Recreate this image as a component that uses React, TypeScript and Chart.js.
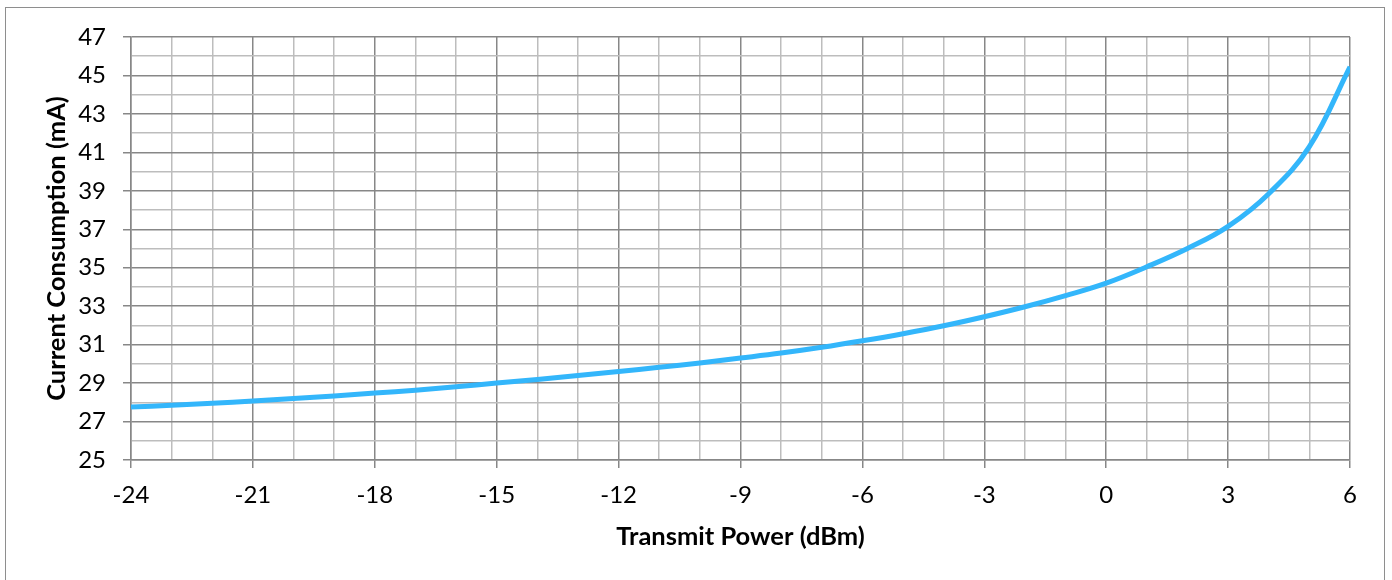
import React, { useEffect, useRef } from "react";
import { Chart, registerables } from "chart.js";

Chart.register(...registerables);

// Transmit power (dBm)
const xValues: number[] = [
  -24, -23, -22, -21, -20, -19, -18, -17, -16, -15, -14, -13, -12, -11, -10,
  -9, -8, -7, -6, -5, -4, -3, -2, -1, 0, 1, 2, 3, 4, 5, 6,
];
// Current consumption (mA)
const currentValues: number[] = [
  27.75, 27.85, 27.95, 28.07, 28.2, 28.33, 28.48, 28.63, 28.81, 29.0, 29.19,
  29.39, 29.6, 29.82, 30.05, 30.3, 30.56, 30.86, 31.2, 31.57, 31.98, 32.45,
  32.97, 33.55, 34.2, 35.05, 36.0, 37.15, 38.85, 41.3, 45.45,
];

const X_MIN = -24;
const X_MAX = 6;
const X_MAJOR_STEP = 3;
const Y_MIN = 25;
const Y_MAX = 47;
const Y_MAJOR_STEP = 2;

const xTitle = "Transmit Power (dBm)";
const yTitle = "Current Consumption (mA)";

const DARK = "#878787";
const LIGHT = "#bdbdbd";
const LINE = "#33b6fb";
const FONT = "Lato, 'Open Sans', sans-serif";

function isMajor(v: number, step: number, base: number) {
  const r = Math.abs((v - base) % step);
  return r < 1e-6 || Math.abs(r - step) < 1e-6;
}

export default function App() {
  const canvasRef = useRef<HTMLCanvasElement | null>(null);

  useEffect(() => {
    document.body.style.margin = "0";
    const canvas = canvasRef.current;
    if (!canvas) return;
    const chart = new Chart(canvas, {
      type: "line",
      data: {
        datasets: [
          {
            data: xValues.map((x, i) => ({ x, y: currentValues[i] })),
            borderColor: LINE,
            backgroundColor: LINE,
            borderWidth: 5,
            pointRadius: 0,
            tension: 0.4,
            fill: false,
          },
        ],
      },
      options: {
        animation: false,
        responsive: false,
        maintainAspectRatio: false,
        layout: { padding: { top: 37, right: 42, left: 0, bottom: 0 } },
        plugins: {
          legend: { display: false },
          tooltip: { enabled: false },
        },
        scales: {
          x: {
            type: "linear",
            min: X_MIN,
            max: X_MAX,
            afterFit: (scale: any) => {
              scale.height = 120;
            },
            ticks: {
              stepSize: 1,
              autoSkip: false,
              maxRotation: 0,
              padding: 13,
              color: "#000",
              font: { family: FONT, size: 24 },
              callback: (v: any) =>
                isMajor(Number(v), X_MAJOR_STEP, X_MIN) ? String(v) : "",
            },
            grid: {
              lineWidth: 1.5,
              tickLength: 8,
              color: (ctx: any) =>
                ctx.tick && isMajor(ctx.tick.value, X_MAJOR_STEP, X_MIN) ? DARK : LIGHT,
              tickColor: (ctx: any) =>
                ctx.tick && isMajor(ctx.tick.value, X_MAJOR_STEP, X_MIN)
                  ? DARK
                  : "rgba(0,0,0,0)",
            },
            border: { display: true, color: DARK, width: 1.5 },
            title: {
              display: true,
              text: xTitle,
              color: "#000",
              font: { family: FONT, size: 25.5, weight: "bold" },
              padding: { top: 0, bottom: 28 },
            },
          },
          y: {
            type: "linear",
            min: Y_MIN,
            max: Y_MAX,
            afterFit: (scale: any) => {
              scale.width = 131;
            },
            ticks: {
              stepSize: 1,
              autoSkip: false,
              padding: 17,
              color: "#000",
              font: { family: FONT, size: 24 },
              callback: (v: any) =>
                isMajor(Number(v), Y_MAJOR_STEP, Y_MIN) ? String(v) : "",
            },
            grid: {
              lineWidth: 1.5,
              tickLength: 8,
              color: (ctx: any) =>
                ctx.tick && isMajor(ctx.tick.value, Y_MAJOR_STEP, Y_MIN) ? DARK : LIGHT,
              tickColor: (ctx: any) =>
                ctx.tick && isMajor(ctx.tick.value, Y_MAJOR_STEP, Y_MIN)
                  ? DARK
                  : "rgba(0,0,0,0)",
            },
            border: { display: true, color: DARK, width: 1.5 },
            title: {
              display: true,
              text: yTitle,
              color: "#000",
              font: { family: FONT, size: 25.5, weight: "bold" },
              padding: { top: 41, bottom: 0 },
            },
          },
        },
      },
    } as any);
    return () => chart.destroy();
  }, []);

  return (
    <div
      style={{
        position: "relative",
        width: 1392,
        height: 580,
        overflow: "hidden",
        background: "#fff",
      }}
    >
      <canvas
        ref={canvasRef}
        width={1392}
        height={580}
        style={{ position: "absolute", left: 0, top: 0, width: 1392, height: 580 }}
      />
      <div
        style={{
          position: "absolute",
          left: 5,
          top: 7,
          width: 1378,
          height: 620,
          border: "1.5px solid #8e8e8e",
          pointerEvents: "none",
        }}
      />
    </div>
  );
}
